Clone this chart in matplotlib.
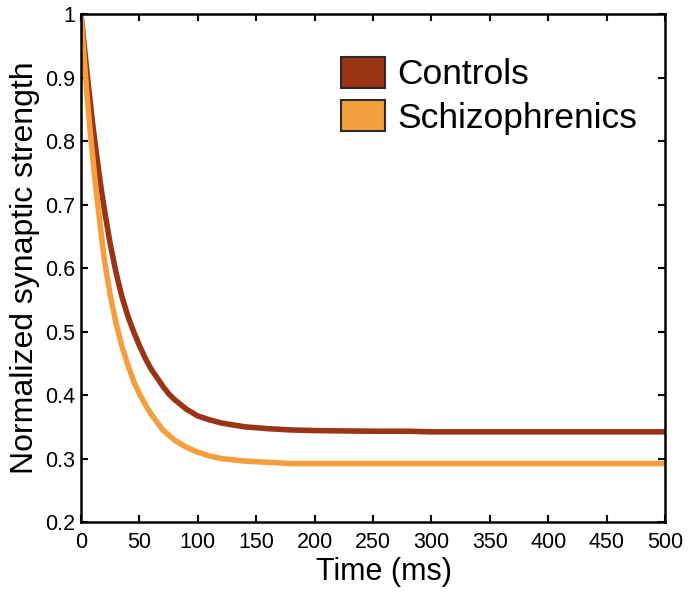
import matplotlib
matplotlib.use("Agg")
import matplotlib.pyplot as plt
from matplotlib.patches import Patch

# 读取的数据点 (ms, 归一化突触强度)
time_ms = [0, 2.5, 5, 7.5, 10, 12.5, 15, 17.5, 20, 25, 30, 35, 40, 45, 50, 55, 60, 70, 75, 80, 90,
           100, 110, 120, 140, 160, 180, 200, 250, 280, 300, 400, 500]
controls = [1.0, 0.955, 0.91, 0.868, 0.827, 0.79, 0.755, 0.722, 0.692, 0.638, 0.593, 0.555,
            0.525, 0.500, 0.478, 0.458, 0.441, 0.414, 0.402, 0.393, 0.378,
            0.367, 0.361, 0.356, 0.350, 0.347, 0.345, 0.344, 0.343, 0.343, 0.342, 0.342, 0.342]
schizo = [1.0, 0.935, 0.875, 0.822, 0.775, 0.73, 0.69, 0.65, 0.613, 0.557, 0.513, 0.477,
          0.448, 0.422, 0.402, 0.385, 0.370, 0.345, 0.337, 0.329, 0.318,
          0.310, 0.304, 0.300, 0.296, 0.294, 0.292, 0.292, 0.292, 0.292, 0.292, 0.292, 0.292]

labels = ["Controls", "Schizophrenics"]
colors = ["#993414", "#F59E3E"]

plt.rcParams['font.family'] = ['Liberation Sans', 'DejaVu Sans']

fig = plt.figure(figsize=(6.9, 5.99), dpi=100)
ax = fig.add_axes([0.1174, 0.1285, 0.8464, 0.8481])

ax.plot(time_ms, controls, color=colors[0], lw=4.0, solid_capstyle='butt')
ax.plot(time_ms, schizo, color=colors[1], lw=4.0, solid_capstyle='butt')

ax.set_xlim(0, 500)
ax.set_ylim(0.2, 1.0)
ax.set_xticks(range(0, 501, 50))
yt = [0.2, 0.3, 0.4, 0.5, 0.6, 0.7, 0.8, 0.9, 1.0]
ax.set_yticks(yt)
ax.set_yticklabels(["%g" % v for v in yt])
ax.tick_params(direction='in', top=True, right=True, length=5, width=1.5,
               labelsize=15.5, pad=4)
ax.tick_params(axis='x', pad=7)
for s in ax.spines.values():
    s.set_linewidth(1.8)

ax.set_xlabel("Time (ms)", fontsize=22, labelpad=3)
ax.xaxis.label.set_x(0.518)
ax.set_ylabel("Normalized synaptic strength", fontsize=23, labelpad=4)

handles = [Patch(facecolor=c, edgecolor="#2b2b2b", lw=1.5) for c in colors]
fig.legend(handles, labels, loc='upper left', bbox_to_anchor=(341 / 690, 1 - 57 / 599),
           frameon=False, fontsize=25.5, handlelength=1.25, handleheight=0.95,
           handletextpad=0.35, labelspacing=0.25, borderpad=0, borderaxespad=0)

fig.savefig("out.png", dpi=100)
